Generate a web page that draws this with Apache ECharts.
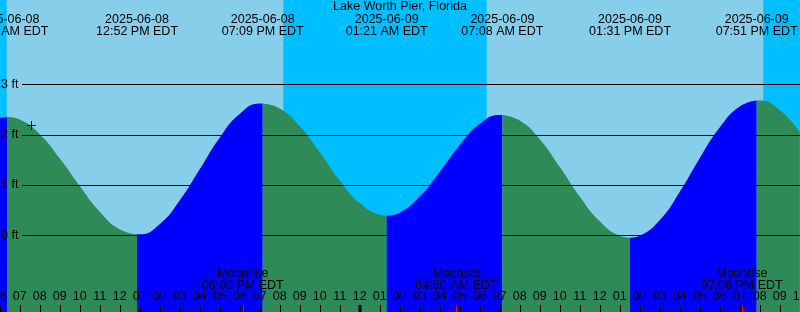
<!DOCTYPE html>
<html><head><meta charset="utf-8">
<script src="https://cdn.jsdelivr.net/npm/echarts@6/dist/echarts.min.js"></script>
<style>html,body{margin:0;padding:0;background:#00BFFF}#c{width:800px;height:312px}</style>
</head><body><div id="c"></div>
<script>
// Times are hours since 2025-06-08 00:00 EDT
const chartTitle = 'Lake Worth Pier, Florida';
const hourlyTimes = [6,7,8,9,10,11,12,13,14,15,16,17,18,19,20,21,22,23,24,25,26,27,28,29,30,31,32,33,34,35,36,37,38,39,40,41,42,43,44,45,46];
const hourlyHeights = [2.34,2.30,2.01,1.53,0.98,0.47,0.12,0.02,0.22,0.69,1.31,1.94,2.41,2.62,2.52,2.17,1.65,1.09,0.64,0.41,0.45,0.77,1.26,1.79,2.21,2.39,2.28,1.91,1.36,0.77,0.28,-0.01,-0.01,0.30,0.86,1.53,2.14,2.56,2.68,2.49,2.05];
const extremeTimes = [6.39, 12.867, 19.15, 25.35, 31.133, 37.517, 43.85];
const extremeHeights = [2.35, 0.02, 2.62, 0.39, 2.39, -0.05, 2.68];
const extremeDates = ['2025-06-08','2025-06-08','2025-06-08','2025-06-09','2025-06-09','2025-06-09','2025-06-09'];
const extremeClock = ['06:23 AM EDT','12:52 PM EDT','07:09 PM EDT','01:21 AM EDT','07:08 AM EDT','01:31 PM EDT','07:51 PM EDT'];
const sunriseTimes = [6.35, 30.35];
const sunsetTimes = [20.18, 44.18];
const moonTimes = [18.15, 28.833, 43.1];
const moonNames = ['Moonrise','Moonset','Moonrise'];
const moonClock = ['06:09 PM EDT','04:50 AM EDT','07:06 PM EDT'];
const heightTicks = [0,1,2,3];
const heightLabels = ['0 ft','1 ft','2 ft','3 ft'];
const hourTicks = [6,7,8,9,10,11,12,13,14,15,16,17,18,19,20,21,22,23,24,25,26,27,28,29,30,31,32,33,34,35,36,37,38,39,40,41,42,43,44,45,46];
const nowMark = [7.57, 2.19];

const X_MIN = 6.015, X_MAX = 46.015, Y_MIN = -1.524, Y_MAX = 4.675;
const FONT = '12.5px "Liberation Sans", Arial, sans-serif';
const C_DAY = '#87CEEB', C_NIGHT = '#00BFFF', C_FALL = '#2E8B57', C_RISE = '#0000FF';

// merge hourly and extreme points
const pts = hourlyTimes.map((t,i)=>[t, hourlyHeights[i]])
  .concat(extremeTimes.map((t,i)=>[t, extremeHeights[i]]))
  .sort((a,b)=>a[0]-b[0]);
const bounds = [pts[0][0]].concat(extremeTimes, [pts[pts.length-1][0]]);
const areaSeries = [];
for (let i=0;i<bounds.length-1;i++){
  const a=bounds[i], b=bounds[i+1];
  const seg = pts.filter(p=>p[0]>=a-1e-9 && p[0]<=b+1e-9);
  const rising = seg[seg.length-1][1] > seg[0][1];
  areaSeries.push({
    type:'line', data:seg, smooth:0.5, symbol:'none', silent:true, z:2,
    lineStyle:{width:0, opacity:0},
    areaStyle:{color: rising?C_RISE:C_FALL, opacity:1, origin:'start'}
  });
}
const crisp = v => Math.round(v)+0.5;

const chart = echarts.init(document.getElementById('c'), null, {renderer:'canvas'});
chart.setOption({
  animation:false,
  backgroundColor:C_NIGHT,
  grid:{left:0,right:0,top:0,bottom:0},
  xAxis:{type:'value',min:X_MIN,max:X_MAX,show:false},
  yAxis:{type:'value',min:Y_MIN,max:Y_MAX,show:false},
  graphic:[{type:'text', x:400, y:7, z:10, style:{text:chartTitle, font:FONT, fill:'#000', align:'center', verticalAlign:'middle'}}],
  series:[
    {type:'custom', z:0, silent:true, data: sunriseTimes.map((s,i)=>[s, sunsetTimes[i]]),
      renderItem:(p,api)=>{
        const a=api.coord([api.value(0),Y_MAX]), b=api.coord([api.value(1),Y_MIN]);
        return {type:'rect', shape:{x:a[0],y:a[1],width:b[0]-a[0],height:b[1]-a[1]}, style:{fill:C_DAY}};
      }},
    ...areaSeries,
    {type:'custom', z:5, silent:true, data: heightTicks.map((v,i)=>[v,i]),
      renderItem:(p,api)=>{
        const v=api.value(0), i=api.value(1);
        const y=api.coord([X_MIN,v])[1];
        return {type:'group', children:[
          {type:'line', shape:{x1:22,y1:crisp(y),x2:800,y2:crisp(y)}, style:{stroke:'#000',lineWidth:1}},
          {type:'text', style:{text:heightLabels[i], x:1, y:y, font:FONT, fill:'#000', align:'left', verticalAlign:'middle'}}
        ]};
      }},
    {type:'custom', z:5, silent:true, data: hourTicks.map(t=>[t]),
      renderItem:(p,api)=>{
        const t=api.value(0);
        const x=api.coord([t,Y_MIN])[0];
        let h=t%12; if(h===0) h=12;
        const lbl=(h<10?'0':'')+h;
        const mid = (t%24===0);
        return {type:'group', children:[
          {type:'line', shape:{x1:mid?Math.round(x):crisp(x),y1:305,x2:mid?Math.round(x):crisp(x),y2:312}, style:{stroke:'#000',lineWidth:mid?3:1}},
          {type:'text', style:{text:lbl, x:x, y:297, font:FONT, fill:'#000', align:'center', verticalAlign:'middle'}}
        ]};
      }},
    {type:'custom', z:6, silent:true, data: moonTimes.map((t,i)=>[t,i]),
      renderItem:(p,api)=>{
        const t=api.value(0), i=api.value(1);
        const x=api.coord([t,Y_MIN])[0];
        return {type:'group', children:[
          {type:'line', shape:{x1:crisp(x),y1:305,x2:crisp(x),y2:312}, style:{stroke:'#FF0000',lineWidth:1}},
          {type:'text', style:{text:moonNames[i], x:x, y:273.3, font:FONT, fill:'#000', align:'center', verticalAlign:'middle'}},
          {type:'text', style:{text:moonClock[i], x:x, y:285.3, font:FONT, fill:'#000', align:'center', verticalAlign:'middle'}}
        ]};
      }},
    {type:'custom', z:6, silent:true, data: extremeTimes.map((t,i)=>[t,i]),
      renderItem:(p,api)=>{
        const t=api.value(0), i=api.value(1);
        const x=api.coord([t,Y_MAX])[0];
        return {type:'group', children:[
          {type:'text', style:{text:extremeDates[i], x:x, y:19.5, font:FONT, fill:'#000', align:'center', verticalAlign:'middle'}},
          {type:'text', style:{text:extremeClock[i], x:x, y:31.5, font:FONT, fill:'#000', align:'center', verticalAlign:'middle'}}
        ]};
      }},
    {type:'custom', z:7, silent:true, data:[nowMark],
      renderItem:(p,api)=>{
        const c=api.coord([api.value(0),api.value(1)]);
        const x=crisp(c[0]), y=crisp(c[1]);
        return {type:'group', children:[
          {type:'line', shape:{x1:x-4.5,y1:y,x2:x+4.5,y2:y}, style:{stroke:'#000',lineWidth:1}},
          {type:'line', shape:{x1:x,y1:y-4.5,x2:x,y2:y+4.5}, style:{stroke:'#000',lineWidth:1}}
        ]};
      }}
  ]
});
</script></body></html>
